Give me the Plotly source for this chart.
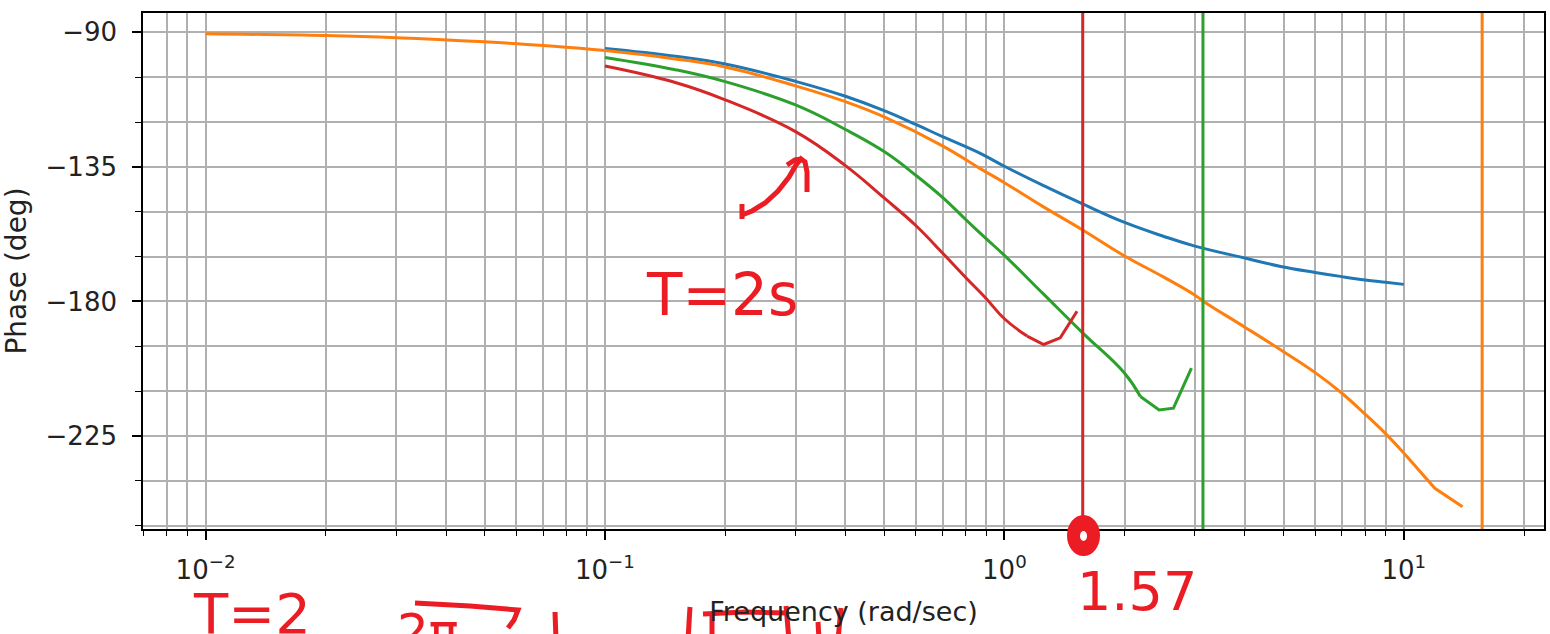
import plotly.graph_objects as go

# ---------------- data ----------------
# Phase responses (deg) of the loop for several sampling periods
w_blue = [0.1, 0.15, 0.2, 0.3, 0.4, 0.5, 0.6, 0.7, 0.87, 1.0, 1.25, 1.57, 2.0, 2.5, 3.0,
          4.0, 4.92, 6.0, 7.0, 8.0, 9.0, 10.0]
ph_blue = [-95.4, -98.0, -100.6, -106.4, -111.4, -116.2, -120.8, -124.9, -130.5, -134.8,
           -141.2, -147.4, -153.6, -158.2, -161.5, -165.5, -168.3, -170.3, -171.7, -172.8,
           -173.6, -174.3]

w_orange = [0.01, 0.02, 0.03, 0.05, 0.07, 0.1, 0.15, 0.2, 0.3, 0.4, 0.5, 0.7, 0.87, 1.0,
            1.25, 1.57, 2.0, 2.5, 3.0, 3.16, 4.0, 5.0, 6.0, 7.0, 8.0, 9.0, 10.0, 11.96, 14.03]
ph_orange = [-90.5, -91.1, -91.8, -93.2, -94.4, -96.1, -98.9, -101.6, -107.9, -113.2,
             -118.3, -128.0, -135.6, -140.3, -148.3, -156.1, -164.8, -171.8, -177.9, -180.1,
             -188.6, -196.8, -203.8, -210.7, -217.7, -224.2, -230.7, -242.5, -248.7]

w_green = [0.1, 0.15, 0.2, 0.3, 0.4, 0.5, 0.6, 0.7, 0.8, 0.9, 1.0, 1.25, 1.57, 2.0, 2.19,
           2.44, 2.65, 2.94]
ph_green = [-98.4, -102.5, -106.5, -114.3, -122.5, -129.9, -137.8, -145.2, -152.6, -159.0,
            -164.6, -177.4, -190.5, -204.0, -211.8, -216.3, -215.7, -202.3]

w_red = [0.1, 0.15, 0.2, 0.3, 0.4, 0.5, 0.6, 0.7, 0.8, 0.9, 1.0, 1.14, 1.254, 1.38, 1.52]
ph_red = [-101.3, -106.8, -112.6, -123.2, -134.6, -145.4, -154.6, -163.8, -172.0, -179.0,
          -185.8, -191.6, -194.4, -192.2, -183.3]

# Nyquist frequencies pi/T (rad/sec) marked with vertical lines
nyq_freqs = [1.5708, 3.1416, 15.708]
nyq_colors = ["#d62728", "#2ca02c", "#ff7f0e"]

# axis ticks
x_major = [0.01, 0.1, 1, 10]
x_major_text = ["10<sup>−2</sup>", "10<sup>−1</sup>", "10<sup>0</sup>", "10<sup>1</sup>"]
x_minor = [m * 10.0 ** k for k in range(-3, 2) for m in range(2, 10)]
y_major = [-90, -135, -180, -225]
y_major_text = ["−90", "−135", "−180", "−225"]
y_minor = [-105, -120, -150, -165, -195, -210, -240, -255]

X_RANGE = [-2.1566, 1.351]
Y_RANGE = [-256.1, -83.55]

# ---------------- figure ----------------
W, H = 1550, 634
L, R, T, B = 143, 1544, 13, 529   # plot area in pixels
INK = "#ec1c24"
FONT = "DejaVu Sans"

fig = go.Figure()
# each response: smooth part drawn as a spline, coarse sampled tail as straight segments
series = [(w_blue, ph_blue, "#1f77b4", len(w_blue)),
          (w_orange, ph_orange, "#ff7f0e", 26),
          (w_green, ph_green, "#2ca02c", 14),
          (w_red, ph_red, "#d62728", 11)]
for w, ph, col, k in series:
    fig.add_trace(go.Scatter(x=w[:k + 1], y=ph[:k + 1], mode="lines",
                             line=dict(color=col, width=3, shape="spline", smoothing=1.2),
                             showlegend=False, hoverinfo="skip"))
    if k < len(w) - 1:
        fig.add_trace(go.Scatter(x=w[k:], y=ph[k:], mode="lines",
                                 line=dict(color=col, width=3),
                                 showlegend=False, hoverinfo="skip"))

for f, col in zip(nyq_freqs, nyq_colors):
    fig.add_trace(go.Scatter(x=[f, f], y=Y_RANGE, mode="lines",
                             line=dict(color=col, width=3),
                             showlegend=False, hoverinfo="skip"))


def px(x):
    return (x - L) / (R - L)


def py(y):
    return (B - y) / (B - T)


def path(points):
    return "M " + " L ".join(f"{px(a):.5f},{py(b):.5f}" for a, b in points)


# hand-drawn ink: arrow, dot and partial strokes
ink_paths = [
    [(742, 204), (742, 219)],
    [(742, 215), (752, 211), (765, 203), (778, 191), (789, 177), (796, 165), (801, 159),
     (805, 162), (807, 172), (807, 192)],
    [(787, 165), (795, 160), (801, 159)],
    [(415, 603), (470, 606), (518, 610), (514, 620), (508, 628)],
    [(555, 612), (556, 640)],
    [(690, 607), (688, 640)],
    [(703, 614), (745, 612), (788, 613)],
    [(712, 615), (712, 640)],
    [(786, 606), (789, 640)],
    [(818, 622), (819, 640)],
    [(841, 608), (838, 640)],
]
shapes = []
for pts in ink_paths:
    shapes.append(dict(type="path", xref="paper", yref="paper", path=path(pts),
                       line=dict(color=INK, width=5), layer="above"))
shapes.append(dict(type="circle", xref="paper", yref="paper",
                   x0=px(1068), x1=px(1099), y0=py(555), y1=py(516),
                   fillcolor=INK, line=dict(color=INK, width=2), layer="above"))
shapes.append(dict(type="circle", xref="paper", yref="paper",
                   x0=px(1080), x1=px(1087), y0=py(541), y1=py(531),
                   fillcolor="white", line=dict(width=0), layer="above"))

annotations = [
    dict(text="T=2s", x=px(722), y=py(295), font=dict(size=58, color=INK, family=FONT)),
    dict(text="1.57", x=px(1137), y=py(591), font=dict(size=54, color=INK, family=FONT)),
    dict(text="T=2", x=px(252), y=py(579), yanchor="top",
         font=dict(size=56, color=INK, family=FONT)),
    dict(text="2π", x=px(428), y=py(601), yanchor="top",
         font=dict(size=50, color=INK, family=FONT)),
]
for a in annotations:
    a.update(xref="paper", yref="paper", showarrow=False, xanchor="center")
    a.setdefault("yanchor", "middle")

axis_common = dict(showline=True, mirror=True, linecolor="black", linewidth=1.6,
                   showgrid=True, gridcolor="#b0b0b0", gridwidth=1.6,
                   ticks="outside", tickcolor="black", tickwidth=1.6, ticklen=9,
                   tickfont=dict(family=FONT, size=26, color="#222"),
                   zeroline=False)

fig.update_layout(
    width=W, height=H,
    margin=dict(l=L, r=W - R, t=T, b=H - B, autoexpand=False),
    paper_bgcolor="white", plot_bgcolor="white",
    xaxis=dict(type="log", range=X_RANGE, tickmode="array", tickvals=x_major,
               ticktext=x_major_text, ticklabelstandoff=8,
               minor=dict(tickmode="array", tickvals=x_minor, ticks="outside", ticklen=5,
                          tickcolor="black", tickwidth=1.4, showgrid=True,
                          gridcolor="#b0b0b0", gridwidth=1.6),
               title=dict(text="Frequency (rad/sec)", standoff=18,
                          font=dict(family=FONT, size=27, color="#222")),
               **axis_common),
    yaxis=dict(range=Y_RANGE, tickmode="array", tickvals=y_major, ticktext=y_major_text,
               ticklabelstandoff=10,
               minor=dict(tickmode="array", tickvals=y_minor, ticks="outside", ticklen=6,
                          tickcolor="black", tickwidth=1.4, showgrid=True,
                          gridcolor="#b0b0b0", gridwidth=1.6),
               title=dict(text="Phase (deg)", standoff=12,
                          font=dict(family=FONT, size=28, color="#222")),
               **axis_common),
    shapes=shapes,
    annotations=annotations,
)

fig.write_html("out.html")
